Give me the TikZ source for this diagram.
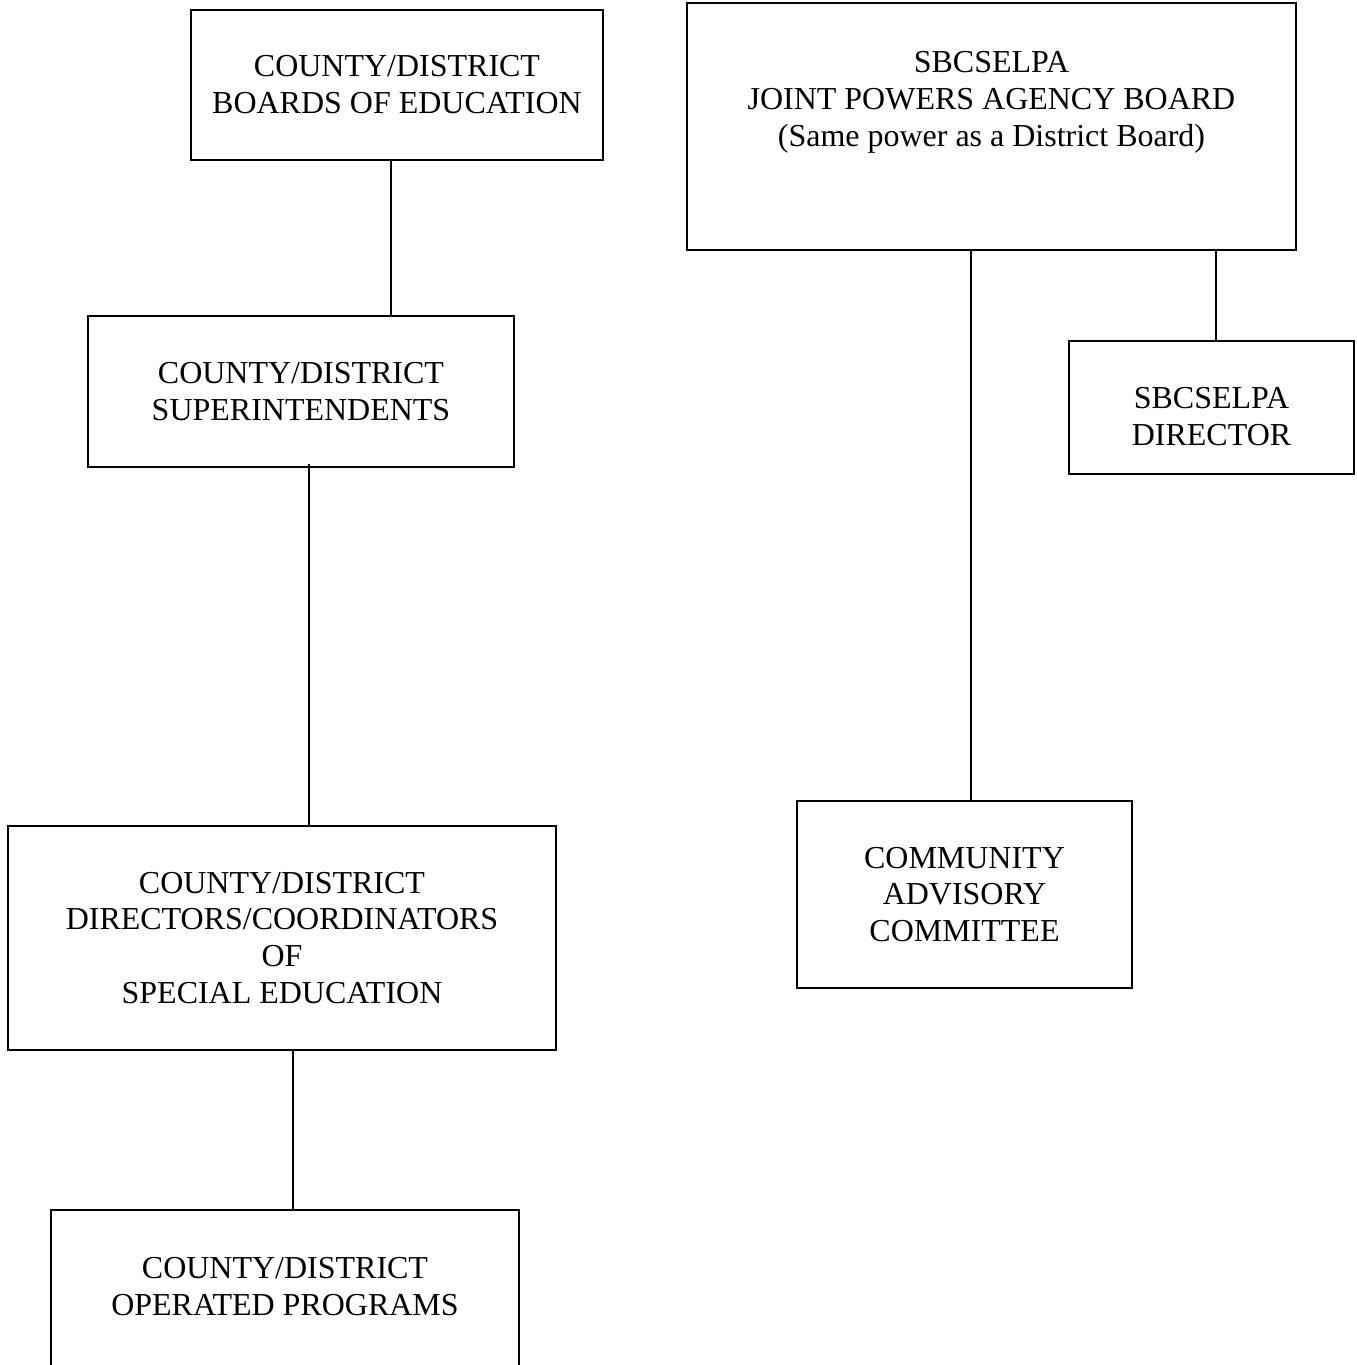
\documentclass[tikz,border=0pt]{standalone}
\usepackage{fontspec}
\setmainfont{Liberation Serif}
\begin{document}
\begin{tikzpicture}[
      unit/.style={draw, line width=0.6pt, align=center, inner sep=0pt,
        font=\fontsize{9.1}{10.5}\selectfont},
      toptext/.style={align=center, anchor=north, inner sep=0pt,
        font=\fontsize{9.1}{10.5}\selectfont},
      link/.style={line width=0.6pt}
    ]
    \useasboundingbox (0,0) rectangle (13.56,-13.65);

    % District side
    \node[unit, minimum width=4.12cm, minimum height=1.50cm] (board) at (3.97,-0.85)
      {COUNTY/DISTRICT\\BOARDS OF EDUCATION};
    \node[unit, minimum width=4.26cm, minimum height=1.51cm] (supt) at (3.01,-3.915)
      {COUNTY/DISTRICT\\SUPERINTENDENTS};
    \node[unit, minimum width=5.48cm, minimum height=2.24cm] (dirs) at (2.82,-9.38)
      {COUNTY/DISTRICT\\DIRECTORS/COORDINATORS\\OF\\SPECIAL EDUCATION};
    \node[unit, minimum width=4.68cm, minimum height=1.80cm,
      label={[toptext, yshift=-0.48cm]north:COUNTY/DISTRICT\\OPERATED PROGRAMS}]
      (progs) at (2.85,-13.0) {};
    \draw[link] ([xshift=-0.06cm]board.south) -- ([xshift=-0.06cm]board.south |- supt.north);
    \draw[link] ([xshift=0.08cm,yshift=0.04cm]supt.south) -- ([xshift=0.08cm]supt.south |- dirs.north);
    \draw[link] ([xshift=0.11cm]dirs.south) -- ([xshift=0.11cm]dirs.south |- progs.north);

    % SELPA side
    \node[unit, minimum width=6.09cm, minimum height=2.47cm,
      label={[toptext, yshift=-0.49cm]north:SBCSELPA\\JOINT POWERS AGENCY BOARD\\(Same power as a District Board)}]
      (jpa) at (9.915,-1.265) {};
    \node[unit, minimum width=2.85cm, minimum height=1.33cm,
      label={[toptext, anchor=center, yshift=-0.09cm]center:SBCSELPA\\DIRECTOR}]
      (sdir) at (12.115,-4.075) {};
    \node[unit, minimum width=3.35cm, minimum height=1.87cm] (cac) at (9.645,-8.945)
      {COMMUNITY\\ADVISORY\\COMMITTEE};
    \draw[link] ([xshift=0.065cm]cac.north |- jpa.south) -- ([xshift=0.065cm]cac.north);
    \draw[link] ([xshift=0.045cm]sdir.north |- jpa.south) -- ([xshift=0.045cm]sdir.north);
  \end{tikzpicture}
\end{document}
